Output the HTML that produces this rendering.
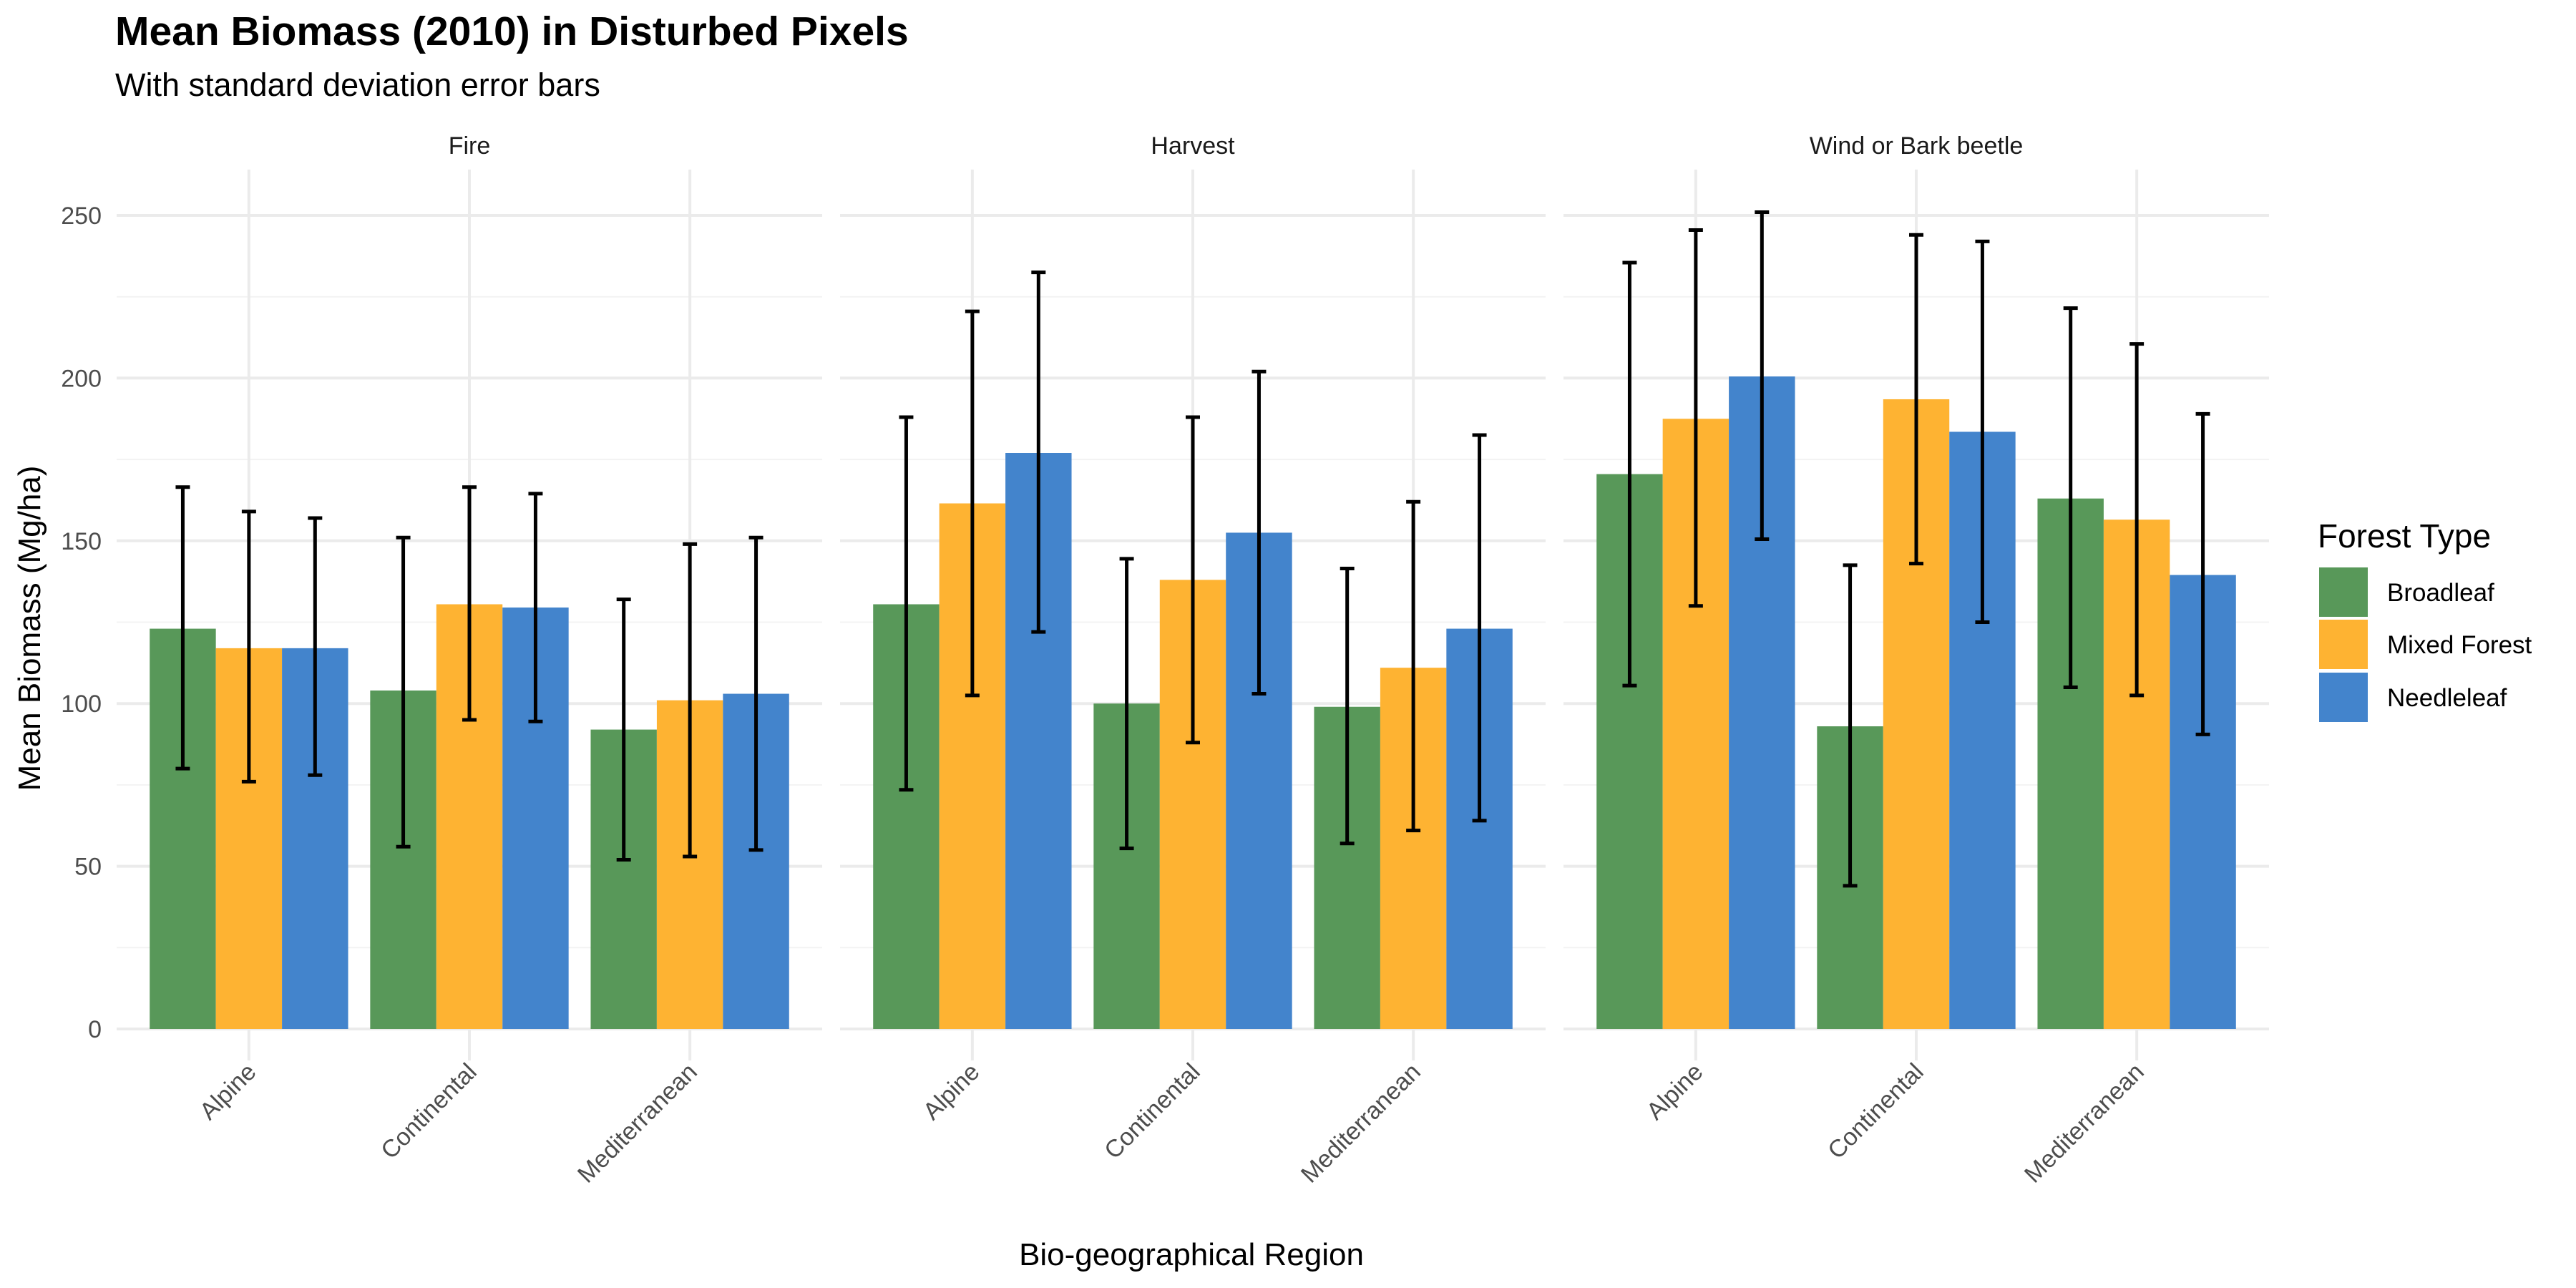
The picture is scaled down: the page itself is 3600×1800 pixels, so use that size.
<!DOCTYPE html>
<html><head><meta charset="utf-8"><style>
html,body{margin:0;padding:0;background:#fff;width:3600px;height:1800px;overflow:hidden}
svg text{font-family:"Liberation Sans",sans-serif}
</style></head><body>
<svg id="chart" width="3600" height="1800" viewBox="0 0 3600 1800" xmlns="http://www.w3.org/2000/svg">
<text x="161" y="63" font-size="57" font-weight="bold" fill="#000">Mean Biomass (2010) in Disturbed Pixels</text>
<text x="161" y="134" font-size="45" fill="#000">With standard deviation error bars</text>
<text transform="translate(56,878) rotate(-90)" text-anchor="middle" font-size="44" fill="#000">Mean Biomass (Mg/ha)</text>
<text x="1665" y="1768" text-anchor="middle" font-size="44" fill="#000">Bio-geographical Region</text>
<g id="panels"></g>
<g>
<text x="3239" y="765" font-size="46" fill="#000">Forest Type</text>
<rect x="3241" y="793" width="68" height="69" fill="#589859"/>
<text x="3336" y="840" font-size="35" fill="#000">Broadleaf</text>
<rect x="3241" y="866" width="68" height="69" fill="#feb332"/>
<text x="3336" y="913" font-size="35" fill="#000">Mixed Forest</text>
<rect x="3241" y="940" width="68" height="69" fill="#4384cc"/>
<text x="3336" y="987" font-size="35" fill="#000">Needleleaf</text>
</g>
</svg>
<script>
const facets = ["Fire","Harvest","Wind or Bark beetle"];
const regions = ["Alpine","Continental","Mediterranean"];
const forestTypes = ["Broadleaf","Mixed Forest","Needleleaf"];
const yTicks = [0,50,100,150,200,250];
const meanFire = [[123,117,117],[104,130.5,129.5],[92,101,103]];
const meanHarvest = [[130.5,161.5,177],[100,138,152.5],[99,111,123]];
const meanWind = [[170.5,187.5,200.5],[93,193.5,183.5],[163,156.5,139.5]];
const lowFire = [[80,76,78],[56,95,94.5],[52,53,55]];
const highFire = [[166.5,159,157],[151,166.5,164.5],[132,149,151]];
const lowHarvest = [[73.5,102.5,122],[55.5,88,103],[57,61,64]];
const highHarvest = [[188,220.5,232.5],[144.5,188,202],[141.5,162,182.5]];
const lowWind = [[105.5,130,150.5],[44,143,125],[105,102.5,90.5]];
const highWind = [[235.5,245.5,251],[142.5,244,242],[221.5,210.5,189]];

const means=[meanFire,meanHarvest,meanWind], lows=[lowFire,lowHarvest,lowWind], highs=[highFire,highHarvest,highWind];
const colors=["#589859","#feb332","#4384cc"];
const NS="http://www.w3.org/2000/svg";
const panelX=[163,1174,2185], panelW=986, plotTop=237, plotBottom=1482;
const y0=1438, pxPerUnit=(1438-301)/250;
const yScale=v=>y0-v*pxPerUnit;
const step=panelW/3.2;
const xScale=(p,i)=>panelX[p]+step*(0.6+i);
const g=document.getElementById('panels');
function mk(tag,attrs,parent){const e=document.createElementNS(NS,tag);for(const k in attrs)e.setAttribute(k,attrs[k]);(parent||g).appendChild(e);return e;}
const slug=s=>s.toLowerCase().replace(/[^a-z]+/g,'-');
facets.forEach((f,p)=>{
  const pg=mk('g',{});
  
  
  for(let t=0;t<yTicks.length-1;t++){
    const v=(yTicks[t]+yTicks[t+1])/2;
    const l=mk('line',{x1:panelX[p],x2:panelX[p]+panelW,y1:yScale(v),y2:yScale(v),stroke:'#f3f3f3','stroke-width':2},pg);
    
    
  }
  yTicks.forEach(v=>{
    const l=mk('line',{x1:panelX[p],x2:panelX[p]+panelW,y1:yScale(v),y2:yScale(v),stroke:'#ebebeb','stroke-width':4},pg);
    
    
  });
  regions.forEach((r,i)=>{
    const cx=xScale(p,i);
    const l=mk('line',{x1:cx,x2:cx,y1:plotTop,y2:plotBottom,stroke:'#ebebeb','stroke-width':4},pg);
    
    
  });
  const st=mk('text',{x:panelX[p]+panelW/2,y:215,'text-anchor':'middle','font-size':34,fill:'#1a1a1a'},pg);
  st.textContent=f;
  
  
  if(p===0){
    yTicks.forEach(v=>{
      const t=mk('text',{x:142,y:yScale(v)+12,'text-anchor':'end','font-size':34,fill:'#4d4d4d'},pg);
      t.textContent=v;
      
      
    });
  }
  const bw=step*0.9/3;
  regions.forEach((r,i)=>{
    const cx=xScale(p,i);
    forestTypes.forEach((ft,k)=>{
      const bx=cx-step*0.45+bw*k, m=means[p][i][k];
      const b=mk('rect',{x:bx,y:yScale(m),width:bw,height:yScale(0)-yScale(m),fill:colors[k]},pg);
      
      
    });
    forestTypes.forEach((ft,k)=>{
      const ex=cx-step*0.45+bw*(k+0.5), lo=yScale(lows[p][i][k]), hi=yScale(highs[p][i][k]);
      const eg=mk('g',{stroke:'#000','stroke-width':5},pg);
      
      
      mk('line',{x1:ex,x2:ex,y1:lo,y2:hi},eg);
      mk('line',{x1:ex-10,x2:ex+10,y1:lo,y2:lo},eg);
      mk('line',{x1:ex-10,x2:ex+10,y1:hi,y2:hi},eg);
    });
    const tl=mk('text',{transform:`translate(${cx+12},${1500}) rotate(-45)`,'text-anchor':'end','font-size':34,fill:'#4d4d4d'},pg);
    tl.textContent=r;
    
    
  });
});
</script>
</body></html>
